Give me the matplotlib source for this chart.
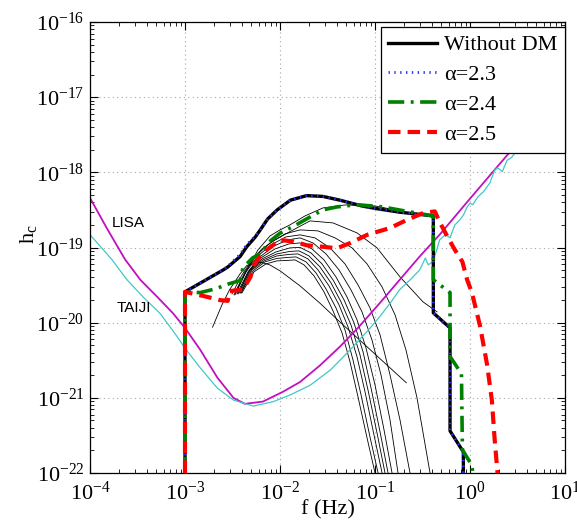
"""Characteristic strain of EMRI signals with/without DM spikes vs LISA/TAIJI sensitivity."""

import matplotlib
matplotlib.use('Agg')  # headless
import matplotlib.pyplot as plt
import numpy as np

# All values are log10(f / Hz) and log10(h_c)

# Detector sensitivity curves
LISA_LOGF = [-4.00, -3.82, -3.63, -3.47, -3.29, -3.13, -3.00, -2.84, -2.66, -2.49, -2.37, -2.18,
             -1.97, -1.79, -1.58, -1.37, -1.18, -0.95, -0.74, -0.53, -0.32, 0.00, 0.44, 1.00]
LISA_LOGH = [-18.34, -18.75, -19.16, -19.43, -19.66, -19.87, -20.07, -20.36, -20.73, -21.00, -21.08, -21.05,
             -20.92, -20.79, -20.57, -20.32, -20.07, -19.74, -19.43, -19.12, -18.83, -18.35, -17.70, -16.88]

TAIJI_LOGF = [-4.00, -3.895, -3.77, -3.61, -3.44, -3.26, -3.08, -3.00, -2.84, -2.66, -2.49, -2.28,
              -2.07, -1.89, -1.68, -1.47, -1.26, -1.05, -0.95, -0.84, -0.74, -0.63, -0.53, -0.47,
              -0.44, -0.39, -0.35, -0.32, -0.26, -0.21, -0.16, -0.105, -0.07, -0.03, 0.00, 0.03,
              0.08, 0.14, 0.21, 0.26, 0.29, 0.34, 0.39, 0.44, 0.51, 1.00]
TAIJI_LOGH = [-18.83, -18.98, -19.16, -19.43, -19.66, -19.88, -20.19, -20.34, -20.60, -20.87, -21.03, -21.11,
              -21.05, -20.96, -20.83, -20.63, -20.36, -20.07, -19.92, -19.74, -19.56, -19.43, -19.30, -19.14,
              -19.23, -19.19, -19.03, -18.90, -18.83, -18.87, -18.70, -18.63, -18.57, -18.46, -18.41, -18.43,
              -18.33, -18.26, -18.14, -17.97, -17.94, -17.99, -17.84, -17.80, -17.68, -16.84]

# Total signal, no dark matter
NODM_LOGF = [-3.00, -3.00, -2.60, -2.55, -2.42, -2.35, -2.26, -2.21, -2.13, -2.03, -1.89, -1.72,
             -1.55, -1.37, -1.13, -0.95, -0.74, -0.386, -0.386, -0.21, -0.21, -0.07, -0.07]
NODM_LOGH = [-22.0, -19.59, -19.30, -19.26, -19.12, -18.99, -18.86, -18.77, -18.62, -18.50, -18.37, -18.31,
             -18.32, -18.37, -18.45, -18.49, -18.53, -18.58, -19.87, -20.07, -21.44, -21.72, -22.0]

# alpha = 2.3 (almost on top of the no-DM curve)
A23_LOGF = [-3.00, -3.00, -2.60, -2.55, -2.42, -2.35, -2.26, -2.21, -2.13, -2.03, -1.89, -1.72,
            -1.55, -1.37, -1.13, -0.95, -0.74, -0.386, -0.386, -0.21, -0.21, -0.07, -0.07]
A23_LOGH = [-22.0, -19.59, -19.30, -19.25, -19.09, -18.96, -18.85, -18.77, -18.62, -18.50, -18.37, -18.31,
            -18.32, -18.37, -18.45, -18.49, -18.53, -18.58, -19.87, -20.07, -21.44, -21.72, -22.0]

# alpha = 2.4
A24_LOGF = [-3.00, -3.00, -2.84, -2.68, -2.53, -2.42, -2.39, -2.29, -2.19, -2.13, -2.00, -1.86, -1.72,
            -1.55, -1.40, -1.19, -0.92, -0.66, -0.386, -0.386, -0.21, -0.21, -0.09, -0.08, 0.02, 0.03]
A24_LOGH = [-22.0, -19.59, -19.60, -19.55, -19.48, -19.44, -19.27, -19.14, -19.07, -18.94, -18.81, -18.72, -18.62,
            -18.50, -18.46, -18.43, -18.46, -18.52, -18.58, -19.43, -19.60, -20.45, -20.68, -21.69, -21.90, -22.0]

# alpha = 2.5
A25_LOGF = [-3.00, -3.00, -2.79, -2.63, -2.55, -2.53, -2.39, -2.31, -2.28, -2.21, -2.14, -2.00, -1.86,
            -1.72, -1.55, -1.40, -1.26, -1.08, -0.84, -0.66, -0.49, -0.37, -0.32, -0.24, -0.16, -0.08,
            -0.03, 0.02, 0.105, 0.18, 0.23, 0.26, 0.29]
A25_LOGH = [-22.0, -19.59, -19.65, -19.70, -19.71, -19.58, -19.56, -19.39, -19.24, -19.12, -19.03, -18.90, -18.92,
            -18.97, -18.99, -19.01, -18.94, -18.83, -18.74, -18.63, -18.54, -18.52, -18.66, -18.85, -19.03, -19.19,
            -19.43, -19.60, -20.04, -20.56, -21.03, -21.56, -22.0]

# Individual sources (thin black lines)
SRC_W_F = [-2.71, -2.61, -2.53, -2.42, -2.35, -2.26, -2.19, -2.11, -2.00, -1.79, -1.58, -1.37, -1.05, -0.67]
SRC_W_H = [-20.06, -19.76, -19.56, -19.35, -19.24, -19.20, -19.20, -19.23, -19.31, -19.51, -19.74, -19.99, -20.36, -20.80]

SRC_A_F = [-2.463, -2.358, -2.232, -2.105, -2.000, -1.895, -1.737, -1.547, -1.316, -1.000, -0.789]
SRC_A_H = [-19.590, -19.324, -19.032, -18.846, -18.766, -18.699, -18.580, -18.473, -18.434, -18.447, -18.500]

SRC_B_F = [-2.505, -2.400, -2.295, -2.189, -2.053, -1.895, -1.684, -1.442, -1.189, -0.979, -0.737, -0.495, -0.347]
SRC_B_H = [-19.617, -19.364, -19.165, -19.019, -18.899, -18.789, -18.646, -18.673, -18.806, -19.005, -19.391, -19.723, -19.856]

SRC_C_F = [-2.484, -2.368, -2.242, -2.105, -1.947, -1.789, -1.600, -1.421, -1.242, -1.084, -0.926, -0.789, -0.674, -0.558, -0.421]
SRC_C_H = [-19.630, -19.324, -19.098, -18.939, -18.819, -18.766, -18.779, -18.872, -19.005, -19.218, -19.524, -19.896, -20.362, -21.000, -21.997]

SRC_D_F = [-2.474, -2.358, -2.232, -2.095, -1.937, -1.789, -1.632, -1.474, -1.316, -1.179, -1.053, -0.947, -0.842, -0.737, -0.632]
SRC_D_H = [-19.630, -19.324, -19.112, -18.965, -18.859, -18.832, -18.872, -19.005, -19.218, -19.497, -19.803, -20.162, -20.694, -21.293, -21.997]

SRC_E_F = [-2.453, -2.337, -2.211, -2.063, -1.916, -1.789, -1.653, -1.516, -1.379, -1.253, -1.137, -1.032, -0.937, -0.842, -0.758]
SRC_E_H = [-19.617, -19.324, -19.125, -18.979, -18.899, -18.872, -18.939, -19.085, -19.298, -19.564, -19.856, -20.229, -20.694, -21.293, -21.997]

SRC_F_F = [-2.442, -2.326, -2.200, -2.053, -1.905, -1.789, -1.663, -1.537, -1.411, -1.295, -1.189, -1.095, -1.000, -0.905, -0.821]
SRC_F_H = [-19.617, -19.311, -19.138, -19.019, -18.952, -18.939, -19.019, -19.165, -19.391, -19.657, -19.963, -20.335, -20.827, -21.426, -21.997]

SRC_G_F = [-2.432, -2.316, -2.189, -2.042, -1.895, -1.789, -1.674, -1.558, -1.442, -1.326, -1.221, -1.126, -1.042, -0.947, -0.863]
SRC_G_H = [-19.604, -19.298, -19.152, -19.059, -19.005, -18.999, -19.072, -19.218, -19.431, -19.697, -20.003, -20.388, -20.867, -21.452, -21.997]

SRC_H_F = [-2.421, -2.305, -2.179, -2.032, -1.895, -1.800, -1.695, -1.579, -1.463, -1.358, -1.253, -1.158, -1.074, -0.979, -0.895]
SRC_H_H = [-19.604, -19.298, -19.165, -19.085, -19.052, -19.045, -19.112, -19.258, -19.471, -19.723, -20.029, -20.428, -20.894, -21.465, -21.997]

SRC_I_F = [-2.411, -2.295, -2.168, -2.032, -1.905, -1.811, -1.705, -1.600, -1.484, -1.379, -1.284, -1.189, -1.105, -1.011, -0.926]
SRC_I_H = [-19.604, -19.298, -19.178, -19.112, -19.092, -19.085, -19.152, -19.298, -19.511, -19.763, -20.056, -20.455, -20.920, -21.492, -21.997]

SRC_J_F = [-2.411, -2.284, -2.158, -2.032, -1.916, -1.832, -1.726, -1.621, -1.516, -1.411, -1.316, -1.232, -1.147, -1.053, -0.968]
SRC_J_H = [-19.604, -19.311, -19.191, -19.145, -19.132, -19.125, -19.191, -19.338, -19.551, -19.803, -20.096, -20.495, -20.960, -21.519, -21.997]

SRC_K_F = [-2.400, -2.274, -2.147, -2.032, -1.926, -1.842, -1.747, -1.642, -1.537, -1.442, -1.347, -1.263, -1.179, -1.084, -1.000]
SRC_K_H = [-19.604, -19.324, -19.218, -19.178, -19.172, -19.165, -19.231, -19.378, -19.590, -19.843, -20.136, -20.521, -20.987, -21.532, -21.997]

SOURCES = [
    (SRC_W_F, SRC_W_H), (SRC_A_F, SRC_A_H), (SRC_B_F, SRC_B_H), (SRC_C_F, SRC_C_H),
    (SRC_D_F, SRC_D_H), (SRC_E_F, SRC_E_H), (SRC_F_F, SRC_F_H), (SRC_G_F, SRC_G_H),
    (SRC_H_F, SRC_H_H), (SRC_I_F, SRC_I_H), (SRC_J_F, SRC_J_H), (SRC_K_F, SRC_K_H),
]

XTICKS = [1e-4, 1e-3, 1e-2, 1e-1, 1e0, 1e1]
YTICKS = [1e-22, 1e-21, 1e-20, 1e-19, 1e-18, 1e-17, 1e-16]


def pw(values):
    """log10 values -> linear values."""
    return np.power(10.0, np.asarray(values, dtype=float))


def main() -> None:
    plt.rcParams['font.family'] = 'serif'
    plt.rcParams['font.serif'] = ['Liberation Serif', 'DejaVu Serif']
    plt.rcParams['mathtext.fontset'] = 'stix'

    fig = plt.figure(figsize=(5.77, 5.23), dpi=100)
    ax = fig.add_axes([90 / 577, 50 / 523, 475 / 577, 451 / 523])

    # thin curves of individual sources
    for logf, logh in SOURCES:
        ax.plot(pw(logf), pw(logh), color='k', lw=0.6, zorder=2)

    # detectors
    ax.plot(pw(LISA_LOGF), pw(LISA_LOGH), color='#c010c0', lw=1.3, zorder=2)
    ax.plot(pw(TAIJI_LOGF), pw(TAIJI_LOGH), color='#40c8c8', lw=0.9, zorder=2)

    # total signals
    ax.plot(pw(NODM_LOGF), pw(NODM_LOGH), color='k', lw=2.4, label='Without DM', zorder=3)
    ax.plot(pw(A23_LOGF), pw(A23_LOGH), color=(0.2, 0.2, 1.0), lw=2.0, ls=(0, (0.5, 1.6)),
            label='α=2.3', zorder=4)
    ax.plot(pw(A24_LOGF), pw(A24_LOGH), color=(0.0, 0.5, 0.0), lw=2.6, ls=(0, (4.5, 1.8, 0.8, 1.8)),
            label='α=2.4', zorder=5)
    ax.plot(pw(A25_LOGF), pw(A25_LOGH), color='r', lw=3.0, ls=(0, (3.0, 1.7)),
            label='α=2.5', zorder=6)

    ax.text(10 ** -3.768, 10 ** -18.673, 'LISA', family='Liberation Sans', fontsize=11,
            va='center', ha='left')
    ax.text(10 ** -3.716, 10 ** -19.803, 'TAIJI', family='Liberation Sans', fontsize=11,
            va='center', ha='left')

    ax.set_xscale('log')
    ax.set_yscale('log')
    ax.set_xlim(1e-4, 1e1)
    ax.set_ylim(1e-22, 1e-16)
    ax.set_xticks(XTICKS)
    ax.set_yticks(YTICKS)
    ax.tick_params(which='both', direction='in', top=True, right=True, labelsize=16)
    ax.tick_params(which='major', length=6, width=0.8, pad=6)
    ax.tick_params(which='minor', length=3, width=0.6)
    ax.tick_params(axis='y', which='major', pad=4)
    ax.grid(True, which='major', color='0.65', ls=(0, (1, 3)), lw=0.8)
    for spine in ax.spines.values():
        spine.set_linewidth(0.9)

    ax.set_xlabel('f (Hz)', fontsize=16)
    ax.xaxis.set_label_coords(0.5, -0.06)
    ax.set_ylabel(r'h$_\mathregular{c}$', fontsize=16)
    ax.yaxis.set_label_coords(-0.108, 0.53)

    leg = ax.legend(loc='upper right', bbox_to_anchor=(1.0, 1 - 5 / 451), borderaxespad=0,
                    fontsize=16, handlelength=2.2, handletextpad=0.3, labelspacing=0.42,
                    borderpad=0.35, fancybox=False, framealpha=1, edgecolor='k')
    leg.get_frame().set_linewidth(0.9)
    leg.set_zorder(10)

    fig.savefig('out.png', dpi=100)
    plt.close(fig)


if __name__ == '__main__':
    main()
